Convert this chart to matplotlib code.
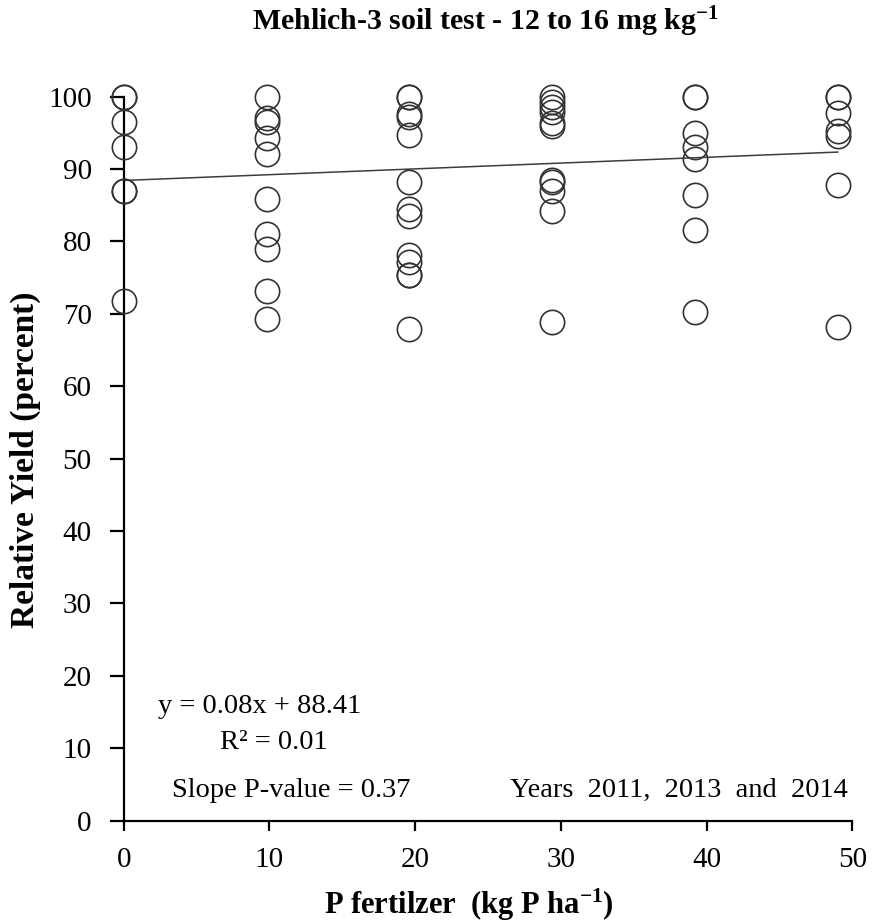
import matplotlib
matplotlib.use("Agg")
import matplotlib.pyplot as plt
import numpy as np

plt.rcParams["font.family"] = ["Liberation Serif", "DejaVu Serif"]
plt.rcParams["mathtext.fontset"] = "custom"
plt.rcParams["mathtext.rm"] = "Liberation Serif"
plt.rcParams["mathtext.bf"] = "Liberation Serif:bold"
plt.rcParams["mathtext.it"] = "Liberation Serif:italic"

# P rate (kg P/ha) and relative yield (%) for each site-year
rate_0 = [100, 100, 96.5, 93.0, 87.0, 87.0, 71.7]
rate_9_8 = [100, 97.0, 96.5, 94.3, 92.1, 85.8, 81.0, 79.0, 73.2, 69.3]
rate_19_6 = [100, 100, 97.6, 97.2, 94.7, 88.2, 84.4, 83.5, 78.1, 77.2, 75.4, 75.3, 67.9]
rate_29_4 = [100, 99.3, 98.5, 97.8, 96.3, 95.9, 88.5, 88.2, 87.0, 84.2, 68.8]
rate_39_2 = [100, 100, 94.9, 93.0, 91.4, 86.4, 81.5, 70.2]
rate_49 = [100, 100, 97.7, 95.2, 94.6, 87.8, 68.2]

p_rates = [0, 9.8, 19.6, 29.4, 39.2, 49]
yields = [rate_0, rate_9_8, rate_19_6, rate_29_4, rate_39_2, rate_49]

# Fitted regression line
slope = 0.08
intercept = 88.41

x_ticks = [0, 10, 20, 30, 40, 50]
y_ticks = [0, 10, 20, 30, 40, 50, 60, 70, 80, 90, 100]

fig = plt.figure(figsize=(8.73, 9.22), dpi=100)
ax = fig.add_axes([0.1417, 0.1099, 0.8346, 0.7854])

for rate, ys in zip(p_rates, yields):
    ax.plot([rate] * len(ys), ys, linestyle="none", marker="o",
            markersize=17.5, markerfacecolor="none",
            markeredgecolor="#333333", markeredgewidth=1.2, clip_on=False,
            zorder=3)

fit_x = np.array([min(p_rates), max(p_rates)])
ax.plot(fit_x, slope * fit_x + intercept, color="#3c3c3c", linewidth=1.1,
        zorder=2)

ax.set_xlim(0, 50)
ax.set_ylim(0, 100)
ax.set_xticks(x_ticks)
ax.set_yticks(y_ticks)

for side in ("top", "right"):
    ax.spines[side].set_visible(False)
for side in ("left", "bottom"):
    ax.spines[side].set_linewidth(1.6)
    ax.spines[side].set_color("black")

ax.tick_params(axis="both", direction="out", width=1.6, color="black",
               labelsize=21)
ax.tick_params(axis="y", length=10, pad=13)
ax.tick_params(axis="x", length=7, pad=12)

ax.set_ylabel("Relative Yield (percent)", fontsize=24, fontweight="bold")
ax.yaxis.set_label_coords(-0.113, 0.498)
ax.set_xlabel(r"P fertilzer  (kg P ha$^{\mathbf{-1}}$)", fontsize=22,
              fontweight="bold")
ax.xaxis.set_label_coords(0.473, -0.092)

fig.text(0.556, 0.976, r"Mehlich-3 soil test - 12 to 16 mg kg$^{\mathbf{-1}}$",
         ha="center", va="center", fontsize=21.5, fontweight="bold")

ax.text(9.3, 15.8, f"y = {slope:.2f}x + {intercept:.2f}", ha="center",
        va="center", fontsize=20.5)
ax.text(10.3, 10.8, "R\u00b2 = 0.01", ha="center", va="center",
        fontsize=20.5)
ax.text(3.3, 4.2, "Slope P-value = 0.37", ha="left", va="center",
        fontsize=20.5)
ax.text(49.7, 4.2, "Years  2011,  2013  and  2014", ha="right",
        va="center", fontsize=20.5)

fig.savefig("out.png", dpi=100)
